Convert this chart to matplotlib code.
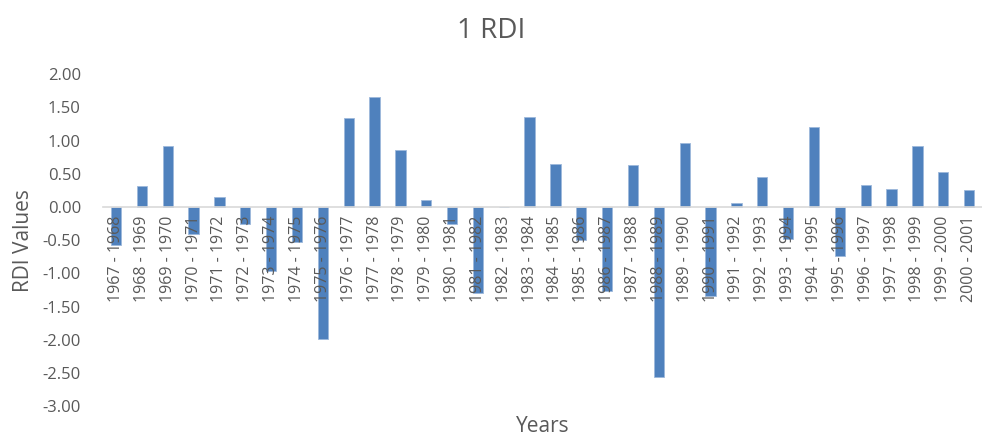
import matplotlib.pyplot as plt
import numpy as np

# periodi idrologici e valori RDI
years = ['1967 - 1968', '1968 - 1969', '1969 - 1970', '1970 - 1971', '1971 - 1972',
         '1972 - 1973', '1973 - 1974', '1974 - 1975', '1975 - 1976', '1976 - 1977',
         '1977 - 1978', '1978 - 1979', '1979 - 1980', '1980 - 1981', '1981 - 1982',
         '1982 - 1983', '1983 - 1984', '1984 - 1985', '1985 - 1986', '1986 - 1987',
         '1987 - 1988', '1988 - 1989', '1989 - 1990', '1990 - 1991', '1991 - 1992',
         '1992 - 1993', '1993 - 1994', '1994 - 1995', '1995 - 1996', '1996 - 1997',
         '1997 - 1998', '1998 - 1999', '1999 - 2000', '2000 - 2001']
rdi = [-0.58, 0.31, 0.92, -0.41, 0.15, -0.26, -0.97, -0.53, -1.99, 1.34,
       1.65, 0.85, 0.10, -0.26, -1.29, 0.00, 1.36, 0.64, -0.50, -1.26,
       0.63, -2.56, 0.96, -1.34, 0.06, 0.45, -0.49, 1.20, -0.74, 0.33,
       0.27, 0.91, 0.53, 0.25]
yticks = [2.0, 1.5, 1.0, 0.5, 0.0, -0.5, -1.0, -1.5, -2.0, -2.5, -3.0]

plt.rcParams['font.family'] = ['Open Sans', 'DejaVu Sans']
grey = '#595959'

fig = plt.figure(figsize=(9.82, 4.41), dpi=100)
ax = fig.add_axes([0.105, 0.079, 0.895, 0.753])

x = np.arange(len(years))
ax.bar(x, rdi, width=0.4, color='#4F81BD', edgecolor='#9DB8DB', linewidth=0.6, zorder=1)

ax.set_xlim(-0.5, len(years) - 0.5)
ax.set_ylim(-3, 2)
ax.set_yticks(yticks)
ax.set_yticklabels([f'{v:.2f}' for v in yticks])
ax.set_xticks(x)
ax.set_xticklabels(years)

for s in ['top', 'right', 'left']:
    ax.spines[s].set_visible(False)
ax.spines['bottom'].set_position(('data', 0))
ax.spines['bottom'].set_color('#D9D9D9')
ax.spines['bottom'].set_linewidth(1.2)
ax.tick_params(axis='both', length=0, labelcolor=grey)
ax.tick_params(axis='x', pad=6, labelrotation=90, labelsize=11.5)
ax.tick_params(axis='y', pad=16, labelsize=12)

ax.set_ylabel('RDI Values', color=grey, fontsize=15, labelpad=6)
fig.text(0.553, 0.008, 'Years', color=grey, fontsize=15, ha='center', va='bottom')
fig.text(0.5, 0.93, '1 RDI', color=grey, fontsize=20, ha='center', va='center')

fig.savefig('out.png', dpi=100)
